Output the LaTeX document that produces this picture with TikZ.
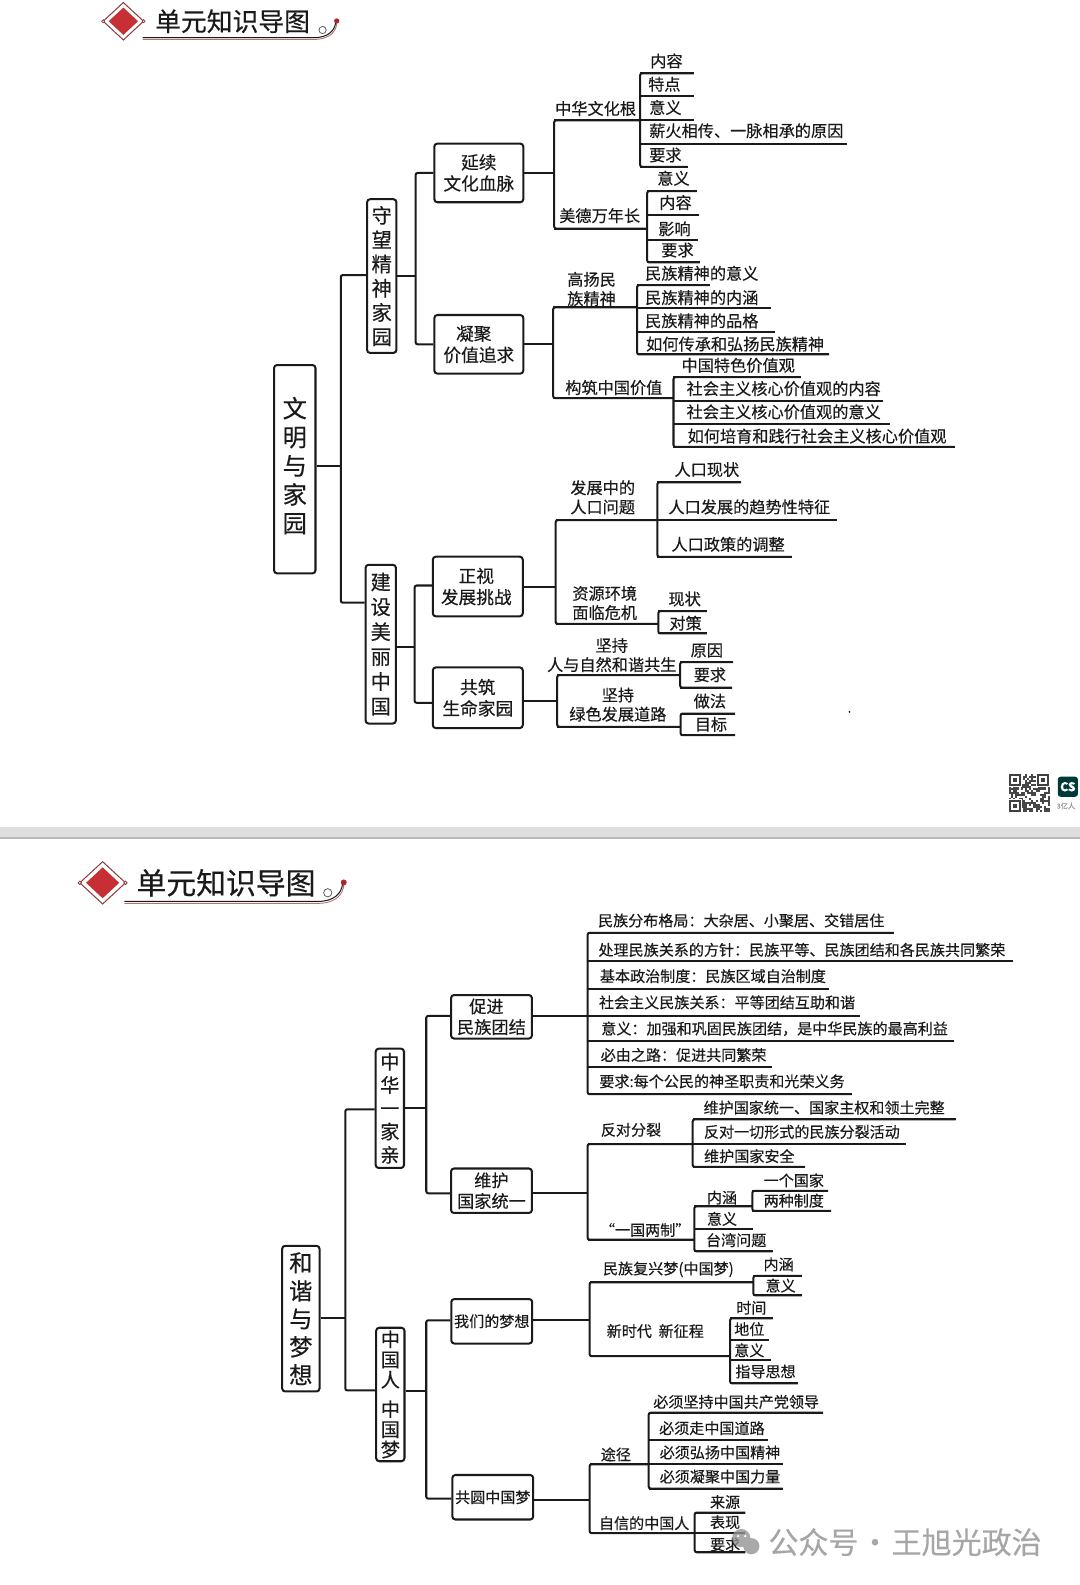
\documentclass[tikz,border=0pt]{standalone}
\usepackage{fontspec}
\setmainfont[FakeBold=0.35]{Noto Sans CJK SC}
\usepackage{tikz}
\definecolor{ink}{HTML}{1A1A1A}
\definecolor{markred}{HTML}{C62F33}
\definecolor{markdark}{HTML}{8C3B3F}
\newcommand{\douhao}{\symbol{"FF0C}}
\newcommand{\maohao}{\symbol{"FF1A}}
\tikzset{
  treeline/.style={line width=2pt, ink},
  treebox/.style={draw=ink, line width=2pt, rounded corners=3pt, inner sep=0pt, align=center, text=ink},
  midtext/.style={font=\fontsize{17.5}{21}\selectfont},
  tagtext/.style={font=\fontsize{20}{24}\selectfont},
  roottext/.style={font=\fontsize{24}{28.4}\selectfont},
  leaftext/.style={inner sep=0pt, yshift=0.7pt, align=center, text=ink, font=\fontsize{16}{19}\selectfont}
}
% one row of texts with their underlines: start x, then name/x/y/text/line y/line end
\newcommand{\leafrow}[2]{%
  \foreach \nm/\tx/\ty/\lab/\yl/\xr in {#2}{
    \node[leaftext] (\nm) at (\tx,\ty) {\lab};
    \coordinate (\nm L) at (#1,\yl);
    \coordinate (\nm R) at (\xr,\yl);
    \draw[treeline] (\nm L) -- (\nm R);
  }}
\newcommand{\bracket}[2]{\draw[treeline, rounded corners=2pt] (#1R) -- (#1L) -- (#2L) -- (#2R);}
\newcommand{\stem}[3]{\draw[treeline] (#1.east |- 0,#3) -- (#2L |- 0,#3);}
% parent, upper child, lower child, trunk x, upper y, lower y, parent y
\newcommand{\fork}[7]{%
  \draw[treeline, rounded corners=2pt] (#2.west |- 0,#5) -- (#4,#5) -- (#4,#6) -- (#3.west |- 0,#6);
  \draw[treeline] (#1.east |- 0,#7) -- (#4,#7);}
\newcommand{\unithead}[5]{%
  \begin{scope}[shift={(#2,#3)}, scale=#4]
    \draw[markdark, line width=1pt, fill=white] (-20,0) -- (0,-18.5) -- (20,0) -- (0,18.5) -- cycle;
    \fill[markred] (-14.5,0) -- (0,-13.5) -- (14.5,0) -- (0,13.5) -- cycle;
    \draw[markdark, line width=0.8pt, fill=white] (-20,0) circle (1.5) (20,0) circle (1.5);
    \node[text=ink, inner sep=0pt, font=\fontsize{#5}{#5}\selectfont] (#1) at (108,0) {单元知识导图};
    \draw[markdark!70, line width=0.9pt] (19,18) -- (188,18) .. controls (204,18) and (211,10) .. (211,1);
    \draw[ink, line width=1pt] (19,16.3) -- (188,16.3) .. controls (203,16.3) and (209,9) .. (210,1);
    \draw[ink!70, line width=0.8pt] (197,8.7) circle (3.6);
    \fill[markred!85!black] (211,-0.3) circle (2.6);
  \end{scope}}

\begin{document}
\begin{tikzpicture}[x=1pt, y=-1pt]
\useasboundingbox (0,0) rectangle (1068,1567.4);
\unithead{headA}{122}{21}{1}{25.5}
\unithead{headB}{101.5}{873}{1.13}{29.5}
%
\node[treebox, roottext, minimum width=41pt, minimum height=206pt] (wmjy) at (291.5,464) {文\\明\\与\\家\\园\\[-19.4pt]};
\node[treebox, tagtext, minimum width=29pt, minimum height=152pt] (swjy) at (377.5,273) {守\\望\\精\\神\\家\\园};
\node[treebox, tagtext, minimum width=30pt, minimum height=157pt, font=\fontsize{20}{24.6}\selectfont] (jsml) at (376.5,637) {建\\设\\美\\丽\\中\\国};
\node[treebox, midtext, minimum width=88pt, minimum height=58pt] (yxwh) at (473.5,171) {延续\\文化血脉};
\node[treebox, midtext, minimum width=88pt, minimum height=58pt] (njjz) at (473.5,340.5) {\hspace*{-10pt}凝聚\\价值追求};
\node[treebox, midtext, minimum width=89pt, minimum height=59pt] (zsfz) at (472.5,580) {\hspace*{-3pt}正视\\\hspace*{-3pt}发展挑战};
\node[treebox, midtext, minimum width=89pt, minimum height=60pt] (gzsm) at (472.5,690) {共筑\\生命家园};
\fork{wmjy}{swjy}{jsml}{337}{272}{596}{460.6}
\fork{swjy}{yxwh}{njjz}{411}{171}{340.5}{273}
\fork{jsml}{zsfz}{gzsm}{410}{579}{695}{640}
% 延续文化血脉
\leafrow{548}{zhwh/589/108/中华文化根/119/633, mdwn/593/214/美德万年长/226/640}
\bracket{zhwh}{mdwn}
\stem{yxwh}{zhwh}{171}
\leafrow{633}{zha/659/61/内容/72.5/686, zhb/657/84/特点/95/686, zhc/658/107/意义/118.5/686, zhd/738/130/薪火相传、一脉相承的原因/142/838, zhe/658/154/要求/165/680}
\bracket{zha}{zhe}
\leafrow{640}{mda/666/177/意义/189/689, mdb/668/201/内容/212.5/691, mdc/667/227/影响/237/690, mdd/670/248/要求/259.5/692}
\bracket{mda}{mdd}
% 凝聚价值追求
\leafrow{547}{gymz/585/286.5/高扬民\\族精神/304/630, gzzg/607/384/构筑中国价值/393.6/666}
\bracket{gymz}{gzzg}
\stem{njjz}{gymz}{340}
\leafrow{630}{gya/694/271/民族精神的意义/282/702, gyb/694/295/民族精神的内涵/305/762, gyc/694/318/民族精神的品格/328/766, gyd/727/341/如何传承和弘扬民族精神/350.5/820}
\bracket{gya}{gyd}
\leafrow{666}{gza/730/362/中国特色价值观/373/792, gzb/775/385/社会主义核心价值观的内容/396.7/873, gzc/775/408/社会主义核心价值观的意义/419.6/880, gzd/808/432/如何培育和践行社会主义核心价值观/442/944}
\bracket{gza}{gzd}
% 正视发展挑战
\leafrow{549.5}{fzrk/596/492.5/发展中的\\人口问题/514.4/650, zyhj/598/597/资源环境\\面临危机/617/651}
\bracket{fzrk}{zyhj}
\stem{zsfz}{fzrk}{580}
\leafrow{650}{rka/699/465/人口现状/477/733, rkb/741/502/人口发展的趋势性特征/514.4/828, rkc/720/539/人口政策的调整/550.6/783}
\bracket{rka}{rkc}
\leafrow{651}{zya/677/593/现状/604.4/699, zyb/678/617/对策/626.4/699}
\bracket{zya}{zyb}
% 共筑生命家园
\leafrow{551}{rzhx/605/648.5/坚持\\人与自然和谐共生/667.7/672.6, lsfz/611/697.5/坚持\\绿色发展道路/718.7/673}
\bracket{rzhx}{lsfz}
\stem{gzsm}{rzhx}{693}
\leafrow{672.6}{rza/699/644/原因/654.8/725, rzb/702/668/要求/680/724}
\bracket{rza}{rzb}
\leafrow{673}{lsa/702/694/做法/705.6/727, lsb/703/717/目标/727/727}
\bracket{lsa}{lsb}
%
\fill[ink] (840,704) circle (1);
\foreach \i in {0,...,19}{
  \foreach \j in {0,...,18}{
    \pgfmathtruncatemacro{\qrcell}{mod(mod((\i+3)*(\j+5),13)*(\i+\j+7)+\i*\i*17+\j*29,11)}
    \ifnum\qrcell<6 \fill[black!72] (998+2*\i,765+2*\j) rectangle ++(2,2); \fi
  }}
\foreach \qx/\qy in {998/765, 1025/765, 998/791}{
  \fill[white] (\qx-1,\qy-1) rectangle ++(14,14);
  \draw[black!75, line width=2pt] (\qx+1,\qy+1) rectangle ++(10,10);
  \fill[black!75] (\qx+4,\qy+4) rectangle ++(4,4);
}
\node[fill=teal!45!black, text=white, rounded corners=3pt, inner sep=0pt, minimum width=20pt, minimum height=20pt, font=\fontsize{12}{12}\selectfont\bfseries] (csmark) at (1056,778) {CS};
\node[text=black!40, inner sep=0pt, anchor=west, font=\fontsize{7}{7}\selectfont] (csnote) at (1045,797) {3亿人};
\fill[black!13] (0,818) rectangle (1068,827.5);
\fill[black!28] (0,827.5) rectangle (1068,829.5);
% second page
\tikzset{leaftext/.style={inner sep=0pt, yshift=0.7pt, align=center, text=ink, font=\fontsize{14.9}{18}\selectfont}}
\node[treebox, roottext, font=\fontsize{23}{27.7}\selectfont, minimum width=37pt, minimum height=144pt] (hxmx) at (297.5,1304) {和\\谐\\与\\梦\\想};
\node[treebox, tagtext, minimum width=28pt, minimum height=118pt, font=\fontsize{19}{23}\selectfont] (zhyj) at (385.5,1096) {中\\华\\一\\家\\亲};
\node[treebox, tagtext, minimum width=28pt, minimum height=132pt, font=\fontsize{19}{20}\selectfont] (zgrm) at (386,1379) {中\\国\\人\\[9pt]中\\国\\梦};
\node[treebox, midtext, font=\fontsize{17}{20.5}\selectfont, minimum width=80pt, minimum height=43pt] (cjmz) at (486,1005.5) {\hspace*{-10pt}促进\\民族团结};
\node[treebox, midtext, font=\fontsize{17}{20.5}\selectfont, minimum width=80pt, minimum height=44pt] (whgj) at (486,1177.5) {维护\\国家统一};
\node[treebox, font=\fontsize{14.9}{18}\selectfont, minimum width=80pt, minimum height=44pt] (wmdm) at (486.3,1306.6) {我们的梦想};
\node[treebox, font=\fontsize{14.9}{18}\selectfont, minimum width=80pt, minimum height=44pt] (gyzg) at (487.3,1480.6) {共圆中国梦};
\fork{hxmx}{zhyj}{zgrm}{341.5}{1097}{1375}{1303}
\fork{zhyj}{cjmz}{whgj}{421.5}{1004.6}{1180}{1096}
\fork{zgrm}{wmdm}{gyzg}{421.5}{1305.6}{1482}{1375.8}
% 促进民族团结
\leafrow{581}{mza/733/911/民族分布格局\maohao 大杂居、小聚居、交错居住/922.5/884, mzb/793/940/处理民族关系的方针\maohao 民族平等、民族团结和各民族共同繁荣/950.6/1001.6, mzc/705/966/基本政治制度\maohao 民族区域自治制度/977.6/820, mzd/719/992/社会主义民族关系\maohao 平等团结互助和谐/1004.6/850.8, mze/766/1018/意义\maohao 加强和巩固民族团结\douhao 是中华民族的最高利益/1029.7/943, mzf/676/1044/必由之路\maohao 促进共同繁荣/1055.6/763, mzg/714/1070/要求:每个公民的神圣职责和光荣义务/1082/842.5}
\bracket{mza}{mzg}
\stem{cjmz}{mza}{1005}
% 维护国家统一
\leafrow{581}{fdfl/624/1118/反对分裂/1131.4/685, ygls/638/1217/“一国两制”/1225.8/686.6}
\bracket{fdfl}{ygls}
\stem{whgj}{fdfl}{1180}
\leafrow{685}{fda/815/1096/维护国家统一、国家主权和领土完整/1107/945, fdb/793/1120/反对一切形式的民族分裂活动/1131.4/896, fdc/741/1144/维护国家安全/1154/796}
\bracket{fda}{fdc}
\leafrow{686.6}{yga/714/1185/内涵/1193/744, ygb/714/1206/意义/1215.7/745, ygc/728/1227/台湾问题/1237.4/764}
\bracket{yga}{ygc}
\leafrow{744}{nha/785/1168/一个国家/1177.6/819, nhb/785/1188/两种制度/1197.5/822}
\bracket{nha}{nhb}
% 我们的梦想
\leafrow{583}{fxm/661/1256/民族复兴梦(中国梦)/1268/745, xsd/648/1317/新时代\ \ 新征程/1341/722}
\bracket{fxm}{xsd}
\stem{wmdm}{fxm}{1305.6}
\leafrow{745}{fxa/770/1251/内涵/1261.7/793, fxb/772/1272/意义/1281/793}
\bracket{fxa}{fxb}
\leafrow{722}{xsa/743/1294/时间/1303.6/764, xsb/741/1315/地位/1324.8/760, xsc/741/1336/意义/1345/762, xse/757/1357/指导思想/1368/789}
\bracket{xsa}{xse}
% 共圆中国梦
\leafrow{583}{tuj/609/1439/途径/1448/641.5, zxr/637/1507/自信的中国人/1516/687}
\bracket{tuj}{zxr}
\stem{gyzg}{tuj}{1483.7}
\leafrow{641.5}{tja/728/1387/必须坚持中国共产党领导/1397/814, tjb/704/1413/必须走中国道路/1424/759, tjc/712/1437/必须弘扬中国精神/1448/774, tjd/712/1461/必须凝聚中国力量/1472/774}
\bracket{tja}{tjd}
\leafrow{687}{zxa/717/1486/来源/1495.7/737, zxb/717/1506/表现/1516/737, zxc/717/1528/要求/1535/737}
\bracket{zxa}{zxc}
%
\fill[black!42, opacity=0.8] (733,1521) circle (9) (743,1529) circle (8);
\fill[white] (730,1519) circle (1.2) (737,1519) circle (1.2);
\node[text=black!35, inner sep=0pt, font=\fontsize{29.7}{29.7}\selectfont] (wxmark) at (895,1525) {公众号\kern1.5pt·\kern1.5pt王旭光政治};
\end{tikzpicture}
\end{document}
